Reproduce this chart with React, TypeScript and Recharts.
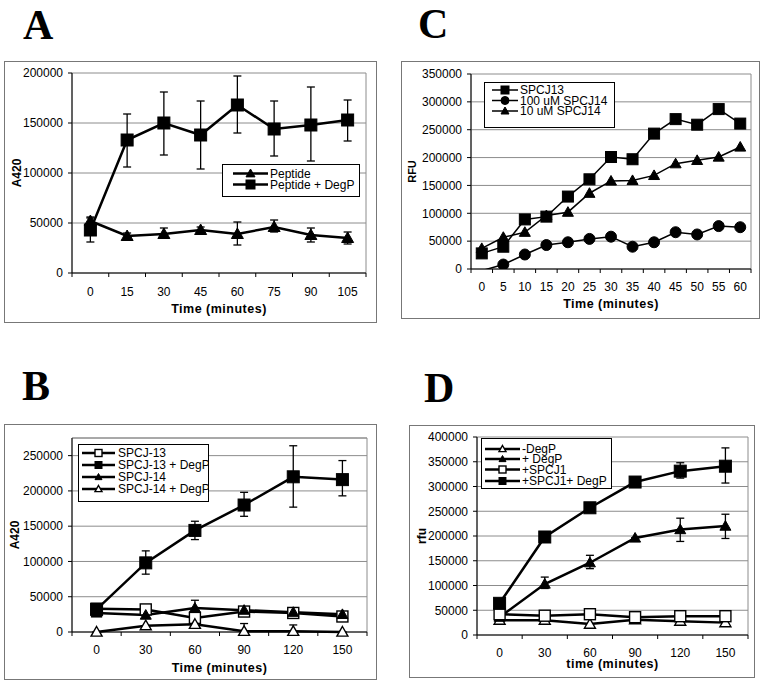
import React from 'react'
import { LineChart, Line, XAxis, YAxis, CartesianGrid, ErrorBar, Legend, ReferenceLine, Label } from 'recharts'

const FONT = '"Liberation Sans", Arial, sans-serif'
const SERIF = '"Liberation Serif", "Times New Roman", serif'
const GRID = '#8c8c8c'

// Panel A - Time (minutes) vs A420
const timesA = [0, 15, 30, 45, 60, 75, 90, 105]
const peptide = [52000, 37000, 39000, 43000, 39000, 46000, 38000, 35000]
const peptideLow = [48000, 34000, 35000, 40000, 28000, 41000, 31000, 29000]
const peptideHigh = [56000, 40000, 45000, 46000, 51000, 53000, 45000, 41000]
const peptideDegP = [43000, 133000, 150000, 138000, 168000, 144000, 148000, 153000]
const peptideDegPLow = [31000, 106000, 118000, 104000, 140000, 117000, 112000, 132000]
const peptideDegPHigh = [55000, 159000, 181000, 172000, 197000, 172000, 186000, 173000]
const ticksA = [0, 50000, 100000, 150000, 200000]

// Panel B
const timesB = [0, 30, 60, 90, 120, 150]
const spcj13 = [33000, 32000, 20000, 29000, 27000, 22000]
const spcj13DegP = [32000, 98000, 144000, 180000, 220000, 216000]
const spcj13DegPLow = [28000, 82000, 131000, 164000, 177000, 193000]
const spcj13DegPHigh = [36000, 115000, 157000, 198000, 264000, 243000]
const spcj14 = [27000, 24000, 34000, 31000, 28000, 25000]
const spcj14Low = [27000, 24000, 23000, 31000, 28000, 25000]
const spcj14High = [27000, 24000, 45000, 31000, 28000, 25000]
const spcj14DegP = [0, 9000, 11000, 1000, 1000, 0]
const spcj14DegPLow = [0, 9000, 11000, 0, 0, 0]
const spcj14DegPHigh = [0, 9000, 11000, 12000, 10000, 0]
const ticksB = [0, 50000, 100000, 150000, 200000, 250000]

// Panel C - RFU
const timesC = [0, 5, 10, 15, 20, 25, 30, 35, 40, 45, 50, 55, 60]
const rfuSpcj13 = [28000, 40000, 89000, 94000, 130000, 161000, 201000, 197000, 243000, 269000, 259000, 287000, 261000]
const rfu100uM = [-3000, 8000, 26000, 43000, 48000, 54000, 58000, 40000, 48000, 66000, 62000, 77000, 75000]
const rfu10uM = [37000, 57000, 66000, 96000, 102000, 136000, 158000, 159000, 168000, 189000, 195000, 201000, 219000]
const ticksC = [0, 50000, 100000, 150000, 200000, 250000, 300000, 350000]

// Panel D - rfu
const timesD = [0, 30, 60, 90, 120, 150]
const minusDegP = [30000, 30000, 22000, 31000, 28000, 25000]
const plusDegP = [36000, 103000, 146000, 196000, 213000, 220000]
const plusDegPLow = [36000, 94000, 134000, 196000, 189000, 195000]
const plusDegPHigh = [36000, 117000, 161000, 196000, 236000, 244000]
const spcj1 = [42000, 39000, 42000, 36000, 38000, 38000]
const spcj1DegP = [64000, 198000, 257000, 309000, 331000, 341000]
const spcj1DegPLow = [64000, 198000, 257000, 309000, 317000, 307000]
const spcj1DegPHigh = [64000, 198000, 257000, 309000, 348000, 378000]
const ticksD = [0, 50000, 100000, 150000, 200000, 250000, 300000, 350000, 400000]

const err = (v: number[], lo: number[], hi: number[], i: number) => [v[i] - lo[i], hi[i] - v[i]]

const dataA = timesA.map((t, i) => ({
  t,
  pep: peptide[i],
  pepErr: err(peptide, peptideLow, peptideHigh, i),
  pepDeg: peptideDegP[i],
  pepDegErr: err(peptideDegP, peptideDegPLow, peptideDegPHigh, i),
}))

const dataB = timesB.map((t, i) => ({
  t,
  s13: spcj13[i],
  s13d: spcj13DegP[i],
  s13dErr: err(spcj13DegP, spcj13DegPLow, spcj13DegPHigh, i),
  s14: spcj14[i],
  s14Err: err(spcj14, spcj14Low, spcj14High, i),
  s14d: spcj14DegP[i],
  s14dErr: err(spcj14DegP, spcj14DegPLow, spcj14DegPHigh, i),
}))

const dataC = timesC.map((t, i) => ({ t, a: rfuSpcj13[i], b: rfu100uM[i], c: rfu10uM[i] }))

const dataD = timesD.map((t, i) => ({
  t,
  m: minusDegP[i],
  p: plusDegP[i],
  pErr: err(plusDegP, plusDegPLow, plusDegPHigh, i),
  s: spcj1[i],
  sd: spcj1DegP[i],
  sdErr: err(spcj1DegP, spcj1DegPLow, spcj1DegPHigh, i),
}))

type Shape = 'square' | 'triangle' | 'circle'

type Series = {
  key: string
  name: string
  shape: Shape
  filled: boolean
  size: number
  err?: string
}

function Marker({ cx, cy, shape, filled, size }: { cx: number; cy: number; shape: Shape; filled: boolean; size: number }) {
  const h = size / 2
  const fill = filled ? '#000' : '#fff'
  const sw = filled ? 1 : 1.4
  if (shape === 'square') {
    return <rect x={cx - h} y={cy - h} width={size} height={size} fill={fill} stroke="#000" strokeWidth={sw} />
  }
  if (shape === 'circle') {
    return <circle cx={cx} cy={cy} r={h} fill={fill} stroke="#000" strokeWidth={sw} />
  }
  return (
    <polygon
      points={`${cx},${cy - h} ${cx + h},${cy + h * 0.75} ${cx - h},${cy + h * 0.75}`}
      fill={fill}
      stroke="#000"
      strokeWidth={sw}
      strokeLinejoin="miter"
    />
  )
}

const dotFor = (s: Series) => (p: any) => {
  if (p.cx == null || p.cy == null || p.value < 0) return <g key={`n-${s.key}-${p.index}`} />
  return <Marker key={`m-${s.key}-${p.index}`} cx={p.cx} cy={p.cy} shape={s.shape} filled={s.filled} size={s.size} />
}

// Excel style category ticks: marks between categories, labels centred
const xTick = (band: number, count: number, labelDy: number) => (props: any) => {
  const { x, y, payload, index } = props
  return (
    <g>
      <line x1={x - band / 2} x2={x - band / 2} y1={y} y2={y + 4} stroke="#000" />
      {index === count - 1 && <line x1={x + band / 2} x2={x + band / 2} y1={y} y2={y + 4} stroke="#000" />}
      <text x={x} y={y + labelDy} dy="0.35em" textAnchor="middle" fontSize={12} fontFamily={FONT} fill="#000">
        {payload.value}
      </text>
    </g>
  )
}

type LegendCfg = {
  left: number
  top: number
  width: number
  height: number
  rows: number[]
  x1: number
  x2: number
  textX: number
  mark: number
}

function LegendBox({ items, cfg, lineWidth }: { items: Series[]; cfg: LegendCfg; lineWidth: number }) {
  return (
    <svg width={cfg.width} height={cfg.height} style={{ display: 'block' }}>
      <rect x={0.5} y={0.5} width={cfg.width - 1} height={cfg.height - 1} fill="#fff" stroke="#000" />
      {items.map((s, i) => (
        <g key={s.key}>
          <line x1={cfg.x1} x2={cfg.x2} y1={cfg.rows[i]} y2={cfg.rows[i]} stroke="#000" strokeWidth={lineWidth} />
          <Marker cx={(cfg.x1 + cfg.x2) / 2} cy={cfg.rows[i]} shape={s.shape} filled={s.filled} size={cfg.mark} />
          <text x={cfg.textX} y={cfg.rows[i]} dy="0.35em" fontSize={12} fontFamily={FONT} fill="#000">
            {s.name}
          </text>
        </g>
      ))}
    </svg>
  )
}

type PanelProps = {
  left: number
  top: number
  width: number
  height: number
  plot: { l: number; t: number; w: number; h: number }
  data: any[]
  count: number
  ticks: number[]
  yMax: number
  series: Series[]
  lineWidth: number
  yTitle: string
  yTitleX: number
  yTitleSize: number
  xTitle: string
  xTitleDy: number
  labelDy: number
  legend: LegendCfg
  overflow?: boolean
  topLine?: boolean
}

function Panel(p: PanelProps) {
  const band = p.plot.w / p.count
  const cx = p.plot.l + p.plot.w / 2
  const cy = p.plot.t + p.plot.h / 2
  return (
    <>
      <div
        style={{
          position: 'absolute',
          left: p.left,
          top: p.top,
          width: p.width,
          height: p.height,
          border: '1px solid #777',
          boxSizing: 'border-box',
        }}
      />
      <div style={{ position: 'absolute', left: p.left, top: p.top }}>
        <LineChart
          width={p.width}
          height={p.height}
          data={p.data}
          margin={{ top: p.plot.t, right: p.width - p.plot.l - p.plot.w, bottom: 0, left: 0 }}
        >
          <CartesianGrid
            stroke={GRID}
            verticalCoordinatesGenerator={({ offset }: any) => [offset.left, offset.left + offset.width]}
          />
          {p.topLine && <ReferenceLine y={p.yMax} stroke={GRID} />}
          <XAxis
            dataKey="t"
            height={p.height - p.plot.t - p.plot.h}
            padding={{ left: band / 2, right: band / 2 }}
            interval={0}
            tickSize={0}
            tickMargin={0}
            tickLine={false}
            axisLine={{ stroke: '#000' }}
            tick={xTick(band, p.count, p.labelDy)}
          >
            <Label
              content={() => (
                <text
                  x={cx}
                  y={p.plot.t + p.plot.h + p.xTitleDy}
                  textAnchor="middle"
                  fontSize={12.5}
                  fontWeight="bold"
                  letterSpacing={0.5}
                  fontFamily={FONT}
                  fill="#000"
                >
                  {p.xTitle}
                </text>
              )}
            />
          </XAxis>
          <YAxis
            domain={[0, p.yMax]}
            ticks={p.ticks}
            interval={0}
            width={p.plot.l}
            tickSize={4}
            tickMargin={5}
            allowDataOverflow={!!p.overflow}
            axisLine={{ stroke: '#000' }}
            tickLine={{ stroke: '#000' }}
            tick={{ fontSize: 12, fill: '#000', fontFamily: FONT }}
          >
            <Label
              content={() => (
                <text
                  x={p.yTitleX}
                  y={cy}
                  transform={`rotate(-90 ${p.yTitleX} ${cy})`}
                  textAnchor="middle"
                  dominantBaseline="central"
                  fontSize={p.yTitleSize}
                  fontWeight="bold"
                  fontFamily={FONT}
                  fill="#000"
                >
                  {p.yTitle}
                </text>
              )}
            />
          </YAxis>
          <Legend
            layout="vertical"
            align="center"
            verticalAlign="middle"
            wrapperStyle={{ left: p.legend.left, top: p.legend.top, width: p.legend.width, height: p.legend.height }}
            content={() => <LegendBox items={p.series} cfg={p.legend} lineWidth={p.lineWidth} />}
          />
          {p.series.map((s) => (
            <Line
              key={s.key}
              dataKey={s.key}
              name={s.name}
              type="linear"
              stroke="#000"
              strokeWidth={p.lineWidth}
              dot={dotFor(s)}
              activeDot={false}
              isAnimationActive={false}
            >
              {s.err && (
                <ErrorBar dataKey={s.err} width={4} stroke="#000" strokeWidth={1.3} direction="y" isAnimationActive={false} />
              )}
            </Line>
          ))}
        </LineChart>
      </div>
    </>
  )
}

const seriesA: Series[] = [
  { key: 'pep', name: 'Peptide', shape: 'triangle', filled: true, size: 12, err: 'pepErr' },
  { key: 'pepDeg', name: 'Peptide + DegP', shape: 'square', filled: true, size: 12, err: 'pepDegErr' },
]

const seriesB: Series[] = [
  { key: 's13', name: 'SPCJ-13', shape: 'square', filled: false, size: 11 },
  { key: 's13d', name: 'SPCJ-13 + DegP', shape: 'square', filled: true, size: 12, err: 's13dErr' },
  { key: 's14', name: 'SPCJ-14', shape: 'triangle', filled: true, size: 11, err: 's14Err' },
  { key: 's14d', name: 'SPCJ-14 + DegP', shape: 'triangle', filled: false, size: 11, err: 's14dErr' },
]

const seriesC: Series[] = [
  { key: 'a', name: 'SPCJ13', shape: 'square', filled: true, size: 11 },
  { key: 'b', name: '100 uM SPCJ14', shape: 'circle', filled: true, size: 11 },
  { key: 'c', name: '10 uM SPCJ14', shape: 'triangle', filled: true, size: 11 },
]

const seriesD: Series[] = [
  { key: 'm', name: '-DegP', shape: 'triangle', filled: false, size: 11 },
  { key: 'p', name: '+ DegP', shape: 'triangle', filled: true, size: 11, err: 'pErr' },
  { key: 's', name: '+SPCJ1', shape: 'square', filled: false, size: 11 },
  { key: 'sd', name: '+SPCJ1+ DegP', shape: 'square', filled: true, size: 12, err: 'sdErr' },
]

// panel letters, drawn as svg text so the baseline sits exactly
function Letter({ ch, left, baseline }: { ch: string; left: number; baseline: number }) {
  return (
    <svg style={{ position: 'absolute', left, top: baseline - 36, overflow: 'visible' }} width={40} height={44}>
      <text x={0} y={36} fontFamily={SERIF} fontWeight="bold" fontSize={42} fill="#000">
        {ch}
      </text>
    </svg>
  )
}

export default function App() {
  return (
    <div style={{ position: 'absolute', left: 0, top: 0, width: 767, height: 688, background: '#fff', overflow: 'hidden' }}>
      <Letter ch="A" left={23} baseline={38.5} />
      <Letter ch="C" left={418} baseline={38} />
      <Letter ch="B" left={22} baseline={400} />
      <Letter ch="D" left={424} baseline={402} />

      <Panel
        left={4}
        top={61}
        width={373}
        height={262}
        plot={{ l: 68, t: 12, w: 294, h: 200 }}
        data={dataA}
        count={timesA.length}
        ticks={ticksA}
        yMax={200000}
        series={seriesA}
        lineWidth={2.5}
        yTitle="A420"
        yTitleX={13}
        yTitleSize={12}
        xTitle="Time (minutes)"
        xTitleDy={39.5}
        labelDy={19}
        legend={{ left: 218, top: 103, width: 138, height: 33, rows: [9.5, 20.5], x1: 11, x2: 46, textX: 48, mark: 9 }}
      />

      <Panel
        left={401}
        top={61}
        width={359}
        height={258}
        plot={{ l: 70, t: 13, w: 280, h: 195 }}
        data={dataC}
        count={timesC.length}
        ticks={ticksC}
        yMax={350000}
        series={seriesC}
        lineWidth={1.5}
        yTitle="RFU"
        yTitleX={11}
        yTitleSize={11}
        xTitle="Time (minutes)"
        xTitleDy={38.5}
        labelDy={18}
        overflow
        legend={{ left: 83, top: 21, width: 131, height: 46, rows: [8, 18.5, 29], x1: 8, x2: 34, textX: 36, mark: 8 }}
      />

      <Panel
        left={4}
        top={424}
        width={373}
        height={256}
        plot={{ l: 68, t: 14, w: 295, h: 194 }}
        data={dataB}
        count={timesB.length}
        ticks={ticksB}
        yMax={275000}
        topLine
        series={seriesB}
        lineWidth={2.5}
        yTitle="A420"
        yTitleX={11}
        yTitleSize={12}
        xTitle="Time (minutes)"
        xTitleDy={39.5}
        labelDy={18}
        legend={{ left: 74, top: 20, width: 131, height: 58, rows: [9, 21, 33, 45], x1: 4, x2: 37, textX: 40, mark: 7 }}
      />

      <Panel
        left={409}
        top={425}
        width={346}
        height={253}
        plot={{ l: 68, t: 12, w: 271, h: 198 }}
        data={dataD}
        count={timesD.length}
        ticks={ticksD}
        yMax={400000}
        series={seriesD}
        lineWidth={2.5}
        yTitle="rfu"
        yTitleX={12.5}
        yTitleSize={12}
        xTitle="time (minutes)"
        xTitleDy={33}
        labelDy={18}
        legend={{ left: 72, top: 13, width: 131, height: 51, rows: [11, 21, 31.5, 43], x1: 4, x2: 39, textX: 41, mark: 7 }}
      />
    </div>
  )
}
